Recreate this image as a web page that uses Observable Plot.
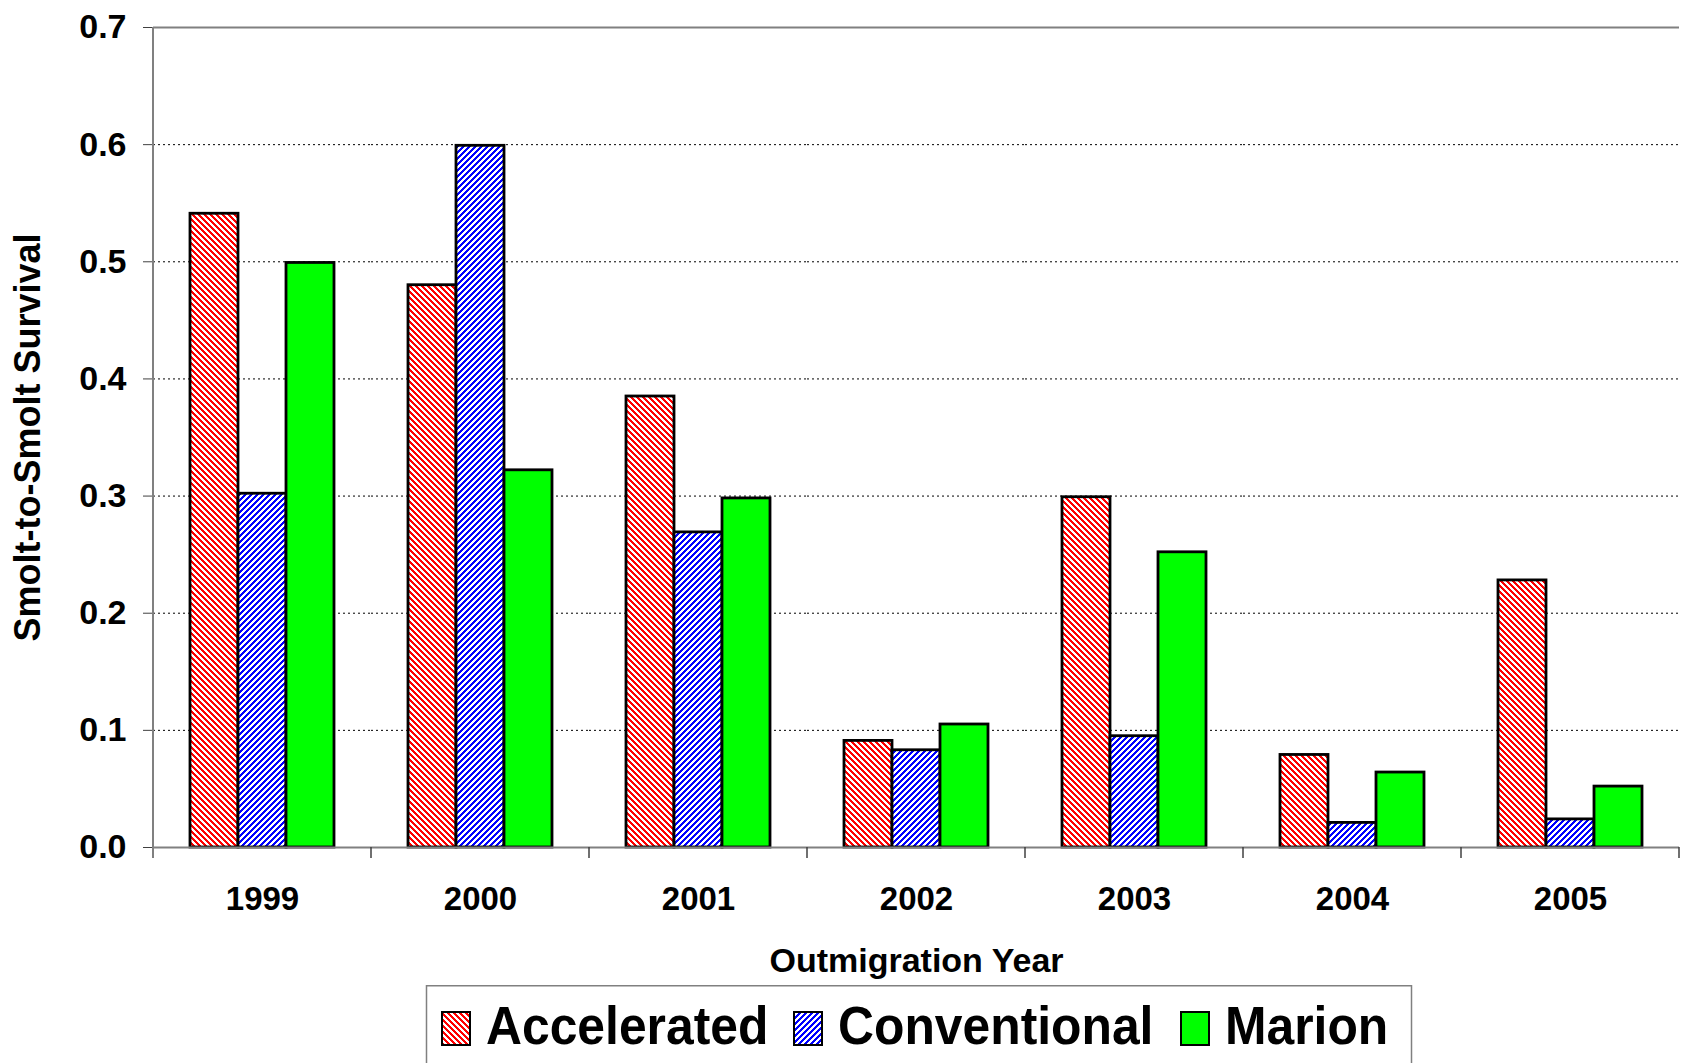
<!DOCTYPE html>
<html>
<head>
<meta charset="utf-8">
<script src="https://cdn.jsdelivr.net/npm/d3@7"></script>
<script src="https://cdn.jsdelivr.net/npm/@observablehq/plot@0.6"></script>
<style>
html, body { margin: 0; padding: 0; background: #fff; }
body { width: 1681px; height: 1063px; overflow: hidden; position: relative;
  font-family: "Liberation Sans", Arial, sans-serif; font-weight: bold; }
#chart { position: absolute; left: 0; top: 0; }
#legend { position: absolute; left: 0; top: 985px; }
#chart g[aria-label="y-axis label"] text { font-size: 36px; }
#chart g[aria-label="fx-axis label"] text { font-size: 34px; }
</style>
</head>
<body>
<svg width="0" height="0" style="position:absolute">
  <defs>
    <pattern id="hatchRed" patternUnits="userSpaceOnUse" width="6" height="6">
      <rect width="6" height="6" fill="#ffffff"/>
      <path d="M-1,-1 L7,7 M5,-1 L7,1 M-1,5 L1,7" stroke="#ff0000" stroke-width="2.4" shape-rendering="crispEdges"/>
    </pattern>
    <pattern id="hatchBlue" patternUnits="userSpaceOnUse" width="6" height="6">
      <rect width="6" height="6" fill="#ffffff"/>
      <path d="M-1,7 L7,-1 M-1,1 L1,-1 M5,7 L7,5" stroke="#0000ff" stroke-width="2.4" shape-rendering="crispEdges"/>
    </pattern>
  </defs>
</svg>
<div id="chart"></div>
<div id="legend"></div>
<script>
const years = ["1999", "2000", "2001", "2002", "2003", "2004", "2005"];
const seriesNames = ["Accelerated", "Conventional", "Marion"];
const accelerated = [0.541, 0.480, 0.385, 0.091, 0.299, 0.079, 0.228];
const conventional = [0.302, 0.599, 0.269, 0.083, 0.095, 0.021, 0.024];
const marion = [0.499, 0.322, 0.298, 0.105, 0.252, 0.064, 0.052];
const yTicks = [0, 0.1, 0.2, 0.3, 0.4, 0.5, 0.6, 0.7];
const gridTicks = [0.1, 0.2, 0.3, 0.4, 0.5, 0.6];
const fills = ["url(#hatchRed)", "url(#hatchBlue)", "#00ff00"];

const seriesValues = [accelerated, conventional, marion];
const data = years.flatMap((yr, i) =>
  seriesNames.map((s, k) => ({year: yr, series: s, value: seriesValues[k][i]})));

const plot = Plot.plot({
  width: 1681,
  height: 985,
  marginTop: 27,
  marginBottom: 138,
  marginLeft: 151,
  marginRight: 0,
  style: {fontFamily: "'Liberation Sans', Arial, sans-serif", fontWeight: "bold", background: "transparent", overflow: "visible", color: "#000"},
  fx: {domain: years, padding: 0},
  x: {domain: seriesNames, paddingInner: 0, paddingOuter: 0.75, axis: null},
  y: {domain: [0, 0.7]},
  color: {domain: seriesNames, range: fills},
  marks: [
    Plot.gridY(gridTicks, {stroke: "#000", strokeOpacity: 1, strokeDasharray: "2,3", strokeWidth: 1}),
    Plot.ruleY([0.7], {stroke: "#808080", strokeWidth: 2}),
    Plot.barY(data, {fx: "year", x: "series", y: "value", fill: "series", stroke: "#000", strokeWidth: 2.8}),
    Plot.ruleY([0], {stroke: "#808080", strokeWidth: 2}),
    Plot.axisY(yTicks, {tickFormat: d => d.toFixed(1), tickSize: 10, tickPadding: 17, fontSize: 34,
      stroke: "#404040", label: "Smolt-to-Smolt Survival", labelAnchor: "center", labelOffset: 139, labelArrow: "none"}),
    Plot.axisFx({anchor: "bottom", tickSize: 0, tickPadding: 39, fontSize: 33, label: "Outmigration Year",
      labelAnchor: "center", labelOffset: 124, labelArrow: "none"})
  ]
});
document.getElementById("chart").appendChild(plot);

// axis line and category boundary ticks, positioned from Plot's scales
const fxS = plot.scale("fx");
const yS = plot.scale("y");
const svg = d3.select(plot);
const y0 = yS.apply(0), yTop = yS.apply(0.7);
const bounds = years.map(yr => fxS.apply(yr)).concat([fxS.apply(years[years.length - 1]) + fxS.bandwidth]);
const g = svg.append("g");
g.selectAll("line.b").data(bounds.slice(1)).join("line")
  .attr("x1", d => d).attr("x2", d => d).attr("y1", y0).attr("y2", y0 + 11)
  .attr("stroke", "#404040").attr("stroke-width", 1.5);
g.append("line").attr("x1", bounds[0]).attr("x2", bounds[0]).attr("y1", yTop).attr("y2", y0 + 11)
  .attr("stroke", "#808080").attr("stroke-width", 2);

// legend
const legendItems = [
  {name: seriesNames[0], fill: fills[0], sx: 442, tx: 486},
  {name: seriesNames[1], fill: fills[1], sx: 794, tx: 838},
  {name: seriesNames[2], fill: fills[2], sx: 1181, tx: 1225}
];
const lg = d3.select("#legend").append("svg").attr("width", 1681).attr("height", 78);
lg.append("rect").attr("x", 426.5).attr("y", 0.75).attr("width", 985).attr("height", 120)
  .attr("fill", "#fff").attr("stroke", "#808080").attr("stroke-width", 1.5);
const it = lg.selectAll("g.item").data(legendItems).join("g");
it.append("rect").attr("x", d => d.sx).attr("y", 27).attr("width", 28).attr("height", 33)
  .attr("fill", d => d.fill).attr("stroke", "#000").attr("stroke-width", 2);
it.append("text").text(d => d.name)
  .attr("transform", d => `translate(${d.tx},59) scale(0.94,1)`)
  .attr("font-family", "'Liberation Sans', Arial, sans-serif").attr("font-weight", "bold")
  .attr("font-size", 53).attr("fill", "#000");
</script>
</body>
</html>
